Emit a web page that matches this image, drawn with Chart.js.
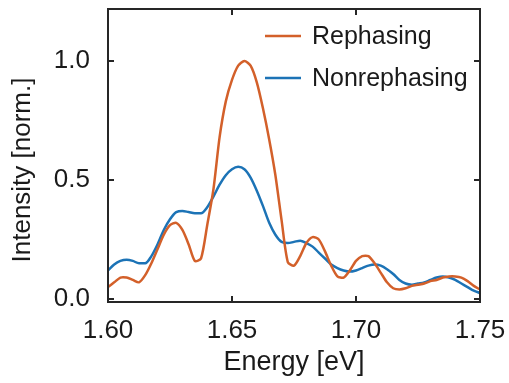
<!DOCTYPE html>
<html>
<head>
<meta charset="utf-8">
<script src="https://cdn.jsdelivr.net/npm/chart.js@4/dist/chart.umd.min.js"></script>
<style>
	html, body { margin: 0; padding: 0; background: #fff; }
	#wrap { width: 509px; height: 383px; }
</style>
</head>
<body>
<div id="wrap"><canvas id="spectra" width="509" height="383"></canvas></div>
<script>
// energy grid, 0.0025 eV steps
const energy = [];
for (let k = 0; k <= 60; k++) energy.push(+(1.6 + k * 0.0025).toFixed(4));

const rephasing = [
	0.05, 0.07, 0.09, 0.09, 0.08, 0.07, 0.10, 0.15, 0.21, 0.27,
	0.31, 0.32, 0.29, 0.23, 0.16, 0.17, 0.31, 0.46, 0.68, 0.83,
	0.92, 0.98, 1.00, 0.98, 0.91, 0.80, 0.67, 0.52, 0.33, 0.155,
	0.14, 0.18, 0.235, 0.26, 0.25, 0.20, 0.14, 0.095, 0.09, 0.12,
	0.16, 0.18, 0.18, 0.15, 0.11, 0.07, 0.045, 0.04, 0.045, 0.055,
	0.06, 0.065, 0.075, 0.08, 0.09, 0.095, 0.095, 0.09, 0.075, 0.055,
	0.04
];
const nonrephasing = [
	0.12, 0.145, 0.16, 0.165, 0.16, 0.15, 0.15, 0.18, 0.23, 0.29,
	0.335, 0.365, 0.37, 0.365, 0.36, 0.36, 0.385, 0.43, 0.48, 0.52,
	0.545, 0.555, 0.545, 0.51, 0.455, 0.39, 0.32, 0.27, 0.24, 0.235,
	0.24, 0.245, 0.235, 0.22, 0.195, 0.17, 0.145, 0.13, 0.12, 0.115,
	0.12, 0.13, 0.14, 0.145, 0.14, 0.125, 0.105, 0.08, 0.065, 0.06,
	0.065, 0.07, 0.08, 0.09, 0.095, 0.09, 0.08, 0.065, 0.05, 0.035,
	0.025
];
const xTicks = [1.60, 1.65, 1.70, 1.75];
const yTicks = [0.0, 0.5, 1.0];

const FONT = "'Liberation Sans', Arial, sans-serif";
const INK = "#1a1a1a";

const toPoints = (ys) => ys.map((y, i) => ({ x: energy[i], y: y }));

/* box, inward ticks, legend and y title drawn on top */
const frame = {
	id: "frame",
	afterDraw(chart) {
		const ctx = chart.ctx;
		const a = chart.chartArea;
		const x = chart.scales.x, y = chart.scales.y;
		ctx.save();
		ctx.strokeStyle = "#262626";
		ctx.lineWidth = 2;
		ctx.strokeRect(a.left, a.top, a.right - a.left, a.bottom - a.top);
		ctx.beginPath();
		xTicks.forEach((v) => {
			const px = Math.round(x.getPixelForValue(v));
			ctx.moveTo(px, a.bottom); ctx.lineTo(px, a.bottom - 6);
			ctx.moveTo(px, a.top); ctx.lineTo(px, a.top + 6);
		});
		yTicks.forEach((v) => {
			const py = Math.round(y.getPixelForValue(v));
			ctx.moveTo(a.left, py); ctx.lineTo(a.left + 6, py);
			ctx.moveTo(a.right, py); ctx.lineTo(a.right - 6, py);
		});
		ctx.stroke();

		// legend
		ctx.font = "25px " + FONT;
		ctx.textBaseline = "middle";
		ctx.textAlign = "left";
		chart.data.datasets.forEach((ds, i) => {
			const ly = 36 + i * 42;
			ctx.strokeStyle = ds.borderColor;
			ctx.lineWidth = 2.4;
			ctx.beginPath();
			ctx.moveTo(265, ly); ctx.lineTo(301, ly);
			ctx.stroke();
			ctx.fillStyle = INK;
			ctx.fillText(ds.label, 312, ly + 1);
		});

		// y axis title
		ctx.font = "26px " + FONT;
		ctx.translate(23, 170);
		ctx.rotate(-Math.PI / 2);
		ctx.textAlign = "center";
		ctx.fillText("Intensity [norm.]", 0, 0);
		ctx.restore();
	}
};

new Chart(document.getElementById("spectra"), {
	type: "line",
	data: {
		datasets: [
			{
				label: "Rephasing",
				data: toPoints(rephasing),
				borderColor: "#D3602A",
				borderWidth: 2.5,
				pointRadius: 0,
				tension: 0.25,
				fill: false
			},
			{
				label: "Nonrephasing",
				data: toPoints(nonrephasing),
				borderColor: "#1C73B6",
				borderWidth: 2.5,
				pointRadius: 0,
				cubicInterpolationMode: "monotone",
				fill: false
			}
		]
	},
	options: {
		responsive: false,
		animation: false,
		events: [],
		layout: { padding: { left: 0, right: 29, top: 9, bottom: 0 } },
		plugins: { legend: { display: false }, tooltip: { enabled: false } },
		scales: {
			x: {
				type: "linear",
				min: 1.6,
				max: 1.75,
				afterBuildTicks: (s) => { s.ticks = xTicks.map((v) => ({ value: v })); },
				afterFit: (s) => { s.height = 81; s.paddingLeft = 0; s.paddingRight = 0; },
				grid: { display: false },
				border: { display: false },
				ticks: {
					color: INK,
					font: { family: FONT, size: 26 },
					padding: 5,
					callback: (v) => v.toFixed(2)
				},
				title: {
					display: true,
					text: "Energy [eV]",
					color: INK,
					font: { family: FONT, size: 27 },
					padding: { top: 0, bottom: 4 }
				}
			},
			y: {
				min: -0.0126,
				max: 1.218,
				afterBuildTicks: (s) => { s.ticks = yTicks.map((v) => ({ value: v })); },
				afterFit: (s) => { s.width = 108; s.paddingTop = 0; s.paddingBottom = 0; },
				grid: { display: false },
				border: { display: false },
				ticks: {
					color: INK,
					font: { family: FONT, size: 26 },
					padding: 10,
					callback: (v) => v.toFixed(1)
				}
			}
		}
	},
	plugins: [frame]
});
</script>
</body>
</html>
